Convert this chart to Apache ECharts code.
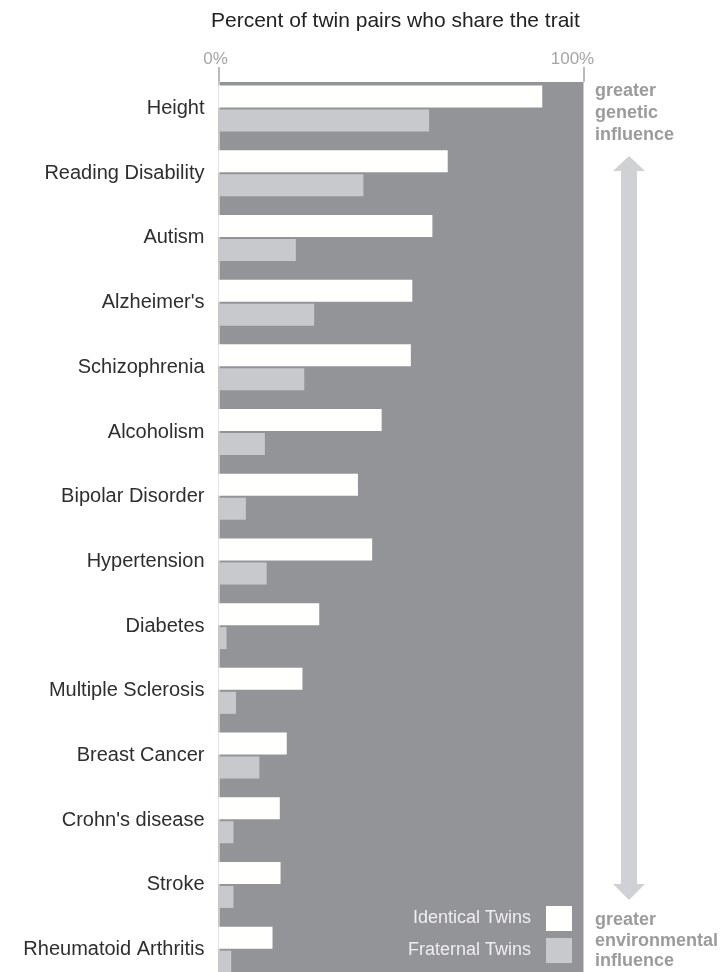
<!DOCTYPE html>
<html>
<head>
<meta charset="utf-8">
<script src="https://cdn.jsdelivr.net/npm/echarts@6/dist/echarts.min.js"></script>
<style>
  html, body { margin: 0; padding: 0; background: #ffffff; overflow: hidden; }
  #chart { width: 724px; height: 1000px; }
</style>
</head>
<body>
<div id="chart"></div>
<script>
const categories = ['Height', 'Reading Disability', 'Autism', "Alzheimer's", 'Schizophrenia', 'Alcoholism', 'Bipolar Disorder', 'Hypertension', 'Diabetes', 'Multiple Sclerosis', 'Breast Cancer', "Crohn's disease", 'Stroke', 'Rheumatoid Arthritis'];
const identicalTwins = [88.7, 62.8, 58.6, 53.1, 52.7, 44.7, 38.2, 42.1, 27.6, 23.0, 18.7, 16.8, 17.0, 14.8];
const fraternalTwins = [57.7, 39.7, 21.2, 26.2, 23.5, 12.7, 7.5, 13.2, 2.2, 4.8, 11.2, 4.1, 4.1, 3.5];
const xTicks = [0, 100];

const FONT = "'Liberation Sans', Arial, sans-serif";
const chart = echarts.init(document.getElementById('chart'), null, { renderer: 'canvas' });

const option = {
  animation: false,
  backgroundColor: '#ffffff',
  title: {
    text: 'Percent of twin pairs who share the trait',
    left: 211, top: 11, padding: 0,
    textStyle: { fontSize: 21, fontWeight: 'normal', color: '#222222', fontFamily: FONT }
  },
  legend: {
    data: ['Identical Twins', 'Fraternal Twins'],
    orient: 'vertical',
    right: 152, top: 906, padding: 0,
    itemWidth: 26, itemHeight: 25, itemGap: 7,
    align: 'right',
    icon: 'rect',
    selectedMode: false,
    textStyle: { color: '#eeeeee', fontSize: 18, fontFamily: FONT, padding: [0, 10, 0, 0] }
  },
  grid: [
    { left: 218.5, right: 140.5, top: 82, bottom: 0, show: true, backgroundColor: '#939498', borderWidth: 0, containLabel: false },
    { left: 218.5, right: 140.5, top: 76.2, height: 64.7 * categories.length, containLabel: false },
    { left: 218.5, right: 140.5, top: 67, height: 15, containLabel: false }
  ],
  xAxis: [
    {
      gridIndex: 0, type: 'value', position: 'top', min: xTicks[0], max: xTicks[1], interval: 100,
      axisLine: { show: true, lineStyle: { color: '#a0a0a0', width: 1.5 } },
      axisTick: { show: false },
      splitLine: { show: false },
      axisLabel: {
        margin: 14, fontSize: 17, color: '#a5a5a5', fontFamily: FONT,
        formatter: function (v) { return v === 100 ? '{r|100%}' : '{l|0%}'; },
        rich: {
          r: { fontSize: 17, color: '#a5a5a5', fontFamily: FONT, padding: [0, 22, 0, 0] },
          l: { fontSize: 17, color: '#a5a5a5', fontFamily: FONT, padding: [0, 6, 0, 0] }
        }
      }
    },
    { gridIndex: 1, type: 'value', min: 0, max: 100, show: false },
    {
      gridIndex: 2, type: 'value', min: xTicks[0], max: xTicks[1], interval: 100,
      axisLine: { show: false }, axisTick: { show: false }, axisLabel: { show: false },
      splitLine: { show: true, showMinLine: true, showMaxLine: true, lineStyle: { color: '#a3a3a3', width: 1.5 } }
    }
  ],
  yAxis: [
    {
      gridIndex: 0, type: 'value', position: 'left', min: 0, max: 1,
      axisLine: { show: true, lineStyle: { color: '#c6c6c6', width: 2 } },
      axisTick: { show: false }, axisLabel: { show: false }, splitLine: { show: false }
    },
    {
      gridIndex: 1, type: 'category', data: categories, inverse: true,
      axisLine: { show: false }, axisTick: { show: false }, splitLine: { show: false },
      axisLabel: {
        margin: 14, fontSize: 20, color: '#2e2e2e', fontFamily: FONT,
        lineHeight: 22, padding: [0, 0, 12, 0]
      }
    },
    { gridIndex: 2, type: 'value', show: false }
  ],
  series: [
    {
      name: 'Identical Twins', type: 'bar', xAxisIndex: 1, yAxisIndex: 1,
      data: identicalTwins, barWidth: 22,
      itemStyle: { color: '#fffffd' }
    },
    {
      name: 'Fraternal Twins', type: 'bar', xAxisIndex: 1, yAxisIndex: 1,
      data: fraternalTwins, barWidth: 22, barGap: '9%',
      itemStyle: { color: '#c8c9cc' }
    }
  ],
  graphic: [
    {
      type: 'text', left: 595, top: 80,
      style: { text: 'greater\ngenetic\ninfluence', font: 'bold 18px ' + FONT, lineHeight: 22, fill: '#9b9b9b' }
    },
    {
      type: 'text', left: 595, top: 910,
      style: { text: 'greater\nenvironmental\ninfluence', font: 'bold 18px ' + FONT, lineHeight: 20.5, fill: '#9b9b9b' }
    },
    {
      type: 'polygon',
      shape: { points: [[629, 156], [645, 171], [637, 171], [637, 884], [645, 884], [629, 900], [613, 884], [621, 884], [621, 171], [613, 171]] },
      style: { fill: '#d0d1d4' }
    }
  ]
};
chart.setOption(option);
</script>
</body>
</html>
